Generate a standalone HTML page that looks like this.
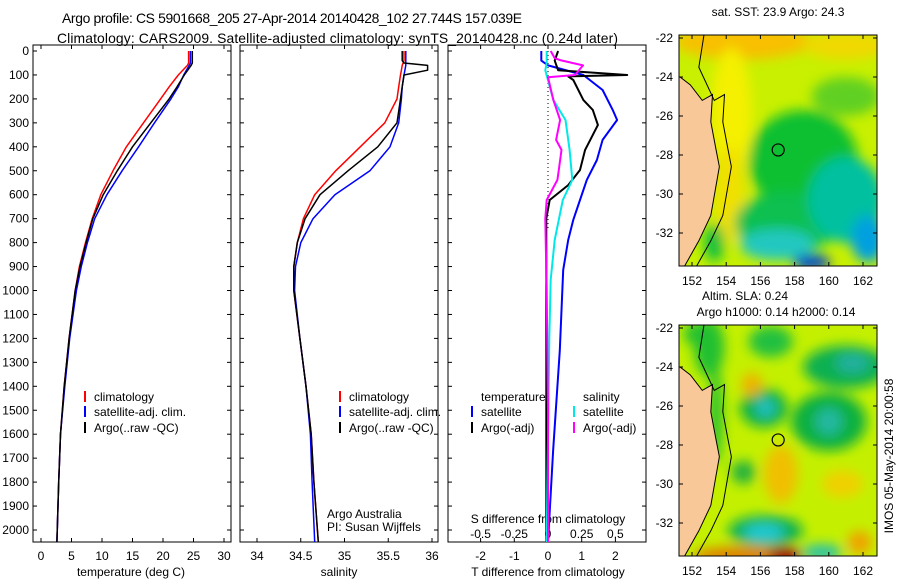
<!DOCTYPE html>
<html><head><meta charset="utf-8">
<style>
html,body{margin:0;padding:0;background:#fff;}
svg{display:block;font-family:"Liberation Sans",sans-serif;}
text{font-size:12px;fill:#000;}
.ttl{font-size:13.9px;}
</style></head>
<body>
<svg id="fig" width="900" height="580" viewBox="0 0 900 580">
<defs>
<filter id="blur1" x="-50%" y="-50%" width="200%" height="200%"><feGaussianBlur stdDeviation="6"/></filter>
<clipPath id="clipM1"><rect x="679" y="35" width="198" height="231"/></clipPath>
<clipPath id="clipM2"><rect x="679" y="325" width="198" height="231"/></clipPath>
</defs>
<text class="ttl" x="62" y="23" textLength="460">Argo profile: CS 5901668_205 27-Apr-2014 20140428_102 27.744S 157.039E</text>
<text class="ttl" x="57" y="43" textLength="561">Climatology: CARS2009. Satellite-adjusted climatology: synTS_20140428.nc (0.24d later)</text>
<g id="g"></g>
</svg>
<script>
// ---- temperature panel data ----
const tDepth = [0,50,60,100,150,200,300,400,500,600,700,800,900,1000,1200,1400,1600,1800,2050];
const tClim  = [24.2,24.2,24,22.5,21,19.6,16.8,14,11.8,9.8,8.4,7.3,6.3,5.6,4.6,3.8,3.2,2.9,2.6];
const tArgo  = [24.8,24.8,24.6,23.5,22.3,21,18,15,12.5,10.2,8.5,7.4,6.4,5.6,4.6,3.8,3.2,2.9,2.6];
const tSat   = [24.5,24.5,24.3,23.4,22.5,21.3,18.6,16,13.3,10.8,8.8,7.6,6.6,5.8,4.7,3.9,3.2,2.9,2.6];
const tTicks = [0,5,10,15,20,25,30];
// ---- salinity panel data ----
const sDepth = [0,40,50,60,80,100,150,200,300,400,500,600,700,800,900,1000,1200,1400,1600,1800,2050];
const sClim  = [35.68,35.68,35.67,35.66,35.65,35.64,35.62,35.6,35.46,35.18,34.9,34.66,34.53,34.46,34.42,34.42,34.49,34.56,34.62,34.65,34.7];
const sArgo  = [35.66,35.66,35.68,35.95,35.95,35.68,35.66,35.64,35.6,35.38,35.04,34.72,34.55,34.46,34.42,34.42,34.49,34.56,34.62,34.65,34.7];
const sSat   = [35.7,35.7,35.7,35.7,35.69,35.68,35.66,35.65,35.62,35.52,35.29,34.89,34.64,34.5,34.44,34.43,34.49,34.56,34.61,34.63,34.66];
const sTicks = [34,34.5,35,35.5,36];
// ---- difference panel data ----
const dTArgoDepth = [0,40,80,100,106,121,205,246,309,413,497,560,622,700,900,1200,1500,1800,2050];
const dTArgo      = [0.3,0.2,0.3,2.35,0.6,0.75,1.05,1.33,1.48,1.1,0.95,0.6,0.05,-0.05,-0.05,-0.05,-0.05,-0.05,-0.05];
const dTSatDepth  = [0,40,60,100,163,246,288,371,455,538,622,705,789,914,1250,1670,2050];
const dTSat       = [-0.2,-0.2,0,1.05,1.62,1.92,2.05,1.62,1.45,1.15,0.95,0.75,0.6,0.45,0.35,0.15,0];
const dSArgoDepth = [0,30,38,60,100,110,205,288,371,413,497,538,622,700,1000,1500,2050];
const dSArgo      = [0.02,0.05,0.09,0.26,0.2,0,0.04,0.09,0.06,0.1,0.08,0.07,-0.01,-0.02,-0.01,0,0];
const dSSatDepth  = [0,50,80,205,288,413,538,622,789,955,1200,2050];
const dSSat       = [-0.01,-0.01,-0.02,0.04,0.13,0.16,0.18,0.11,0.05,0.02,0.01,-0.01];
const dTTicks = [-2,-1,0,1,2];
const dSTicks = [-0.5,-0.25,0,0.25,0.5];
const depthTicks = [0,100,200,300,400,500,600,700,800,900,1000,1100,1200,1300,1400,1500,1600,1700,1800,1900,2000];

const NS='http://www.w3.org/2000/svg';
const G=document.getElementById('g');
function el(tag,attrs,parent){const e=document.createElementNS(NS,tag);for(const k in attrs)e.setAttribute(k,attrs[k]);(parent||G).appendChild(e);return e;}
function txt(x,y,s,anchor,parent){const t=el('text',{x:x,y:y,'text-anchor':anchor||'start'},parent);t.textContent=s;return t;}
const yD = d => 51 + d*0.2395;
const PT = 542;
const xT = v => 41 + v*6.1;
const xS = v => 257 + (v-34)*87.5;
const xDT = v => 548 + v*33.7;
const xDS = v => 548 + v*4*33.7;

function panel(x0,name,ticks,xf,tickLbl,labelY){
  const r=el('rect',{x:x0,y:45,width:198,height:PT-45,fill:'none',stroke:'#000','stroke-width':1});
  
  
  depthTicks.forEach(d=>{
    const y=yD(d);
    el('line',{x1:x0,x2:x0+4,y1:y,y2:y,stroke:'#000'});
    el('line',{x1:x0+198,x2:x0+194,y1:y,y2:y,stroke:'#000'});
  });
  ticks.forEach(v=>{
    const x=xf(v);
    el('line',{x1:x,x2:x,y1:PT,y2:PT-4,stroke:'#000'});
    el('line',{x1:x,x2:x,y1:45,y2:49,stroke:'#000'});
    if(tickLbl){const t=txt(x,labelY,String(v),'middle');
      
      }
  });
}
function line(xs,ds,xf,color,w,name){
  const pts=xs.map((v,i)=>xf(v).toFixed(1)+','+yD(ds[i]).toFixed(1)).join(' ');
  const p=el('polyline',{points:pts,fill:'none',stroke:color,'stroke-width':w,'stroke-linejoin':'round'});
  
  
}
// panel 1
panel(33,'temperature-panel',tTicks,xT,true,560);
depthTicks.forEach(d=>{const t=txt(29,yD(d)+4,String(d),'end');
  
  });
line(tClim,tDepth,xT,'#ff0000',1.5,'temperature-climatology-line');
line(tSat,tDepth,xT,'#0000ff',1.5,'temperature-satellite-line');
line(tArgo,tDepth,xT,'#000000',1.5,'temperature-argo-line');
let t=txt(131,576,'temperature (deg C)','middle');


// panel 2
panel(240,'salinity-panel',sTicks,xS,true,560);
line(sClim,sDepth,xS,'#ff0000',1.5,'salinity-climatology-line');
line(sSat,sDepth,xS,'#0000ff',1.5,'salinity-satellite-line');
line(sArgo,sDepth,xS,'#000000',1.5,'salinity-argo-line');
t=txt(339,576,'salinity','middle');


txt(327,518,'Argo Australia');
txt(327,531,'PI: Susan Wijffels');
// panel 3
panel(448,'difference-panel',dTTicks,xDT,true,560);
dSTicks.forEach(v=>{const tt=txt(xDS(v),538,String(v),'middle');
  
  });
txt(548,523,'S difference from climatology','middle');
t=txt(548,576,'T difference from climatology','middle');


el('line',{x1:xDT(0),x2:xDT(0),y1:yD(0),y2:yD(750),stroke:'#000','stroke-dasharray':'1,3'});
line(dTSat,dTSatDepth,xDT,'#0000ff',2,'t-diff-satellite-line');
line(dTArgo,dTArgoDepth,xDT,'#000000',2,'t-diff-argo-line');
line(dSSat,dSSatDepth,xDS,'#00e8e8',2,'s-diff-satellite-line');
line(dSArgo,dSArgoDepth,xDS,'#ff00ff',2,'s-diff-argo-line');

// legends
function legendEntry(x,y,color,label,name){
  el('line',{x1:x,x2:x,y1:y-10,y2:y+1,stroke:color,'stroke-width':2});
  const tt=txt(x+9,y,label);
  
  
}
legendEntry(85,401,'#ff0000','climatology','legend-climatology');
legendEntry(85,416,'#0000ff','satellite-adj. clim.','legend-satellite');
legendEntry(85,432,'#000000','Argo(..raw -QC)','legend-argo');
legendEntry(340,401,'#ff0000','climatology','legend-climatology-2');
legendEntry(340,416,'#0000ff','satellite-adj. clim.','legend-satellite-2');
legendEntry(340,432,'#000000','Argo(..raw -QC)','legend-argo-2');
txt(481,401,'temperature');
txt(583,401,'salinity');
legendEntry(472,416,'#0000ff','satellite','legend-t-satellite');
legendEntry(472,432,'#000000','Argo(-adj)','legend-t-argo');
legendEntry(574,416,'#00e8e8','satellite','legend-s-satellite');
legendEntry(574,432,'#ff00ff','Argo(-adj)','legend-s-argo');

// ---- maps ----
const lonTicks=[152,154,156,158,160,162];
const latTicks=[-22,-24,-26,-28,-30,-32];
const sstBlobs=[[155,-22.2,4,0.9,'#f8c000'],[161,-22.4,2.5,0.7,'#f0d800'],[154.3,-26,1.2,3.5,'#f4f000'],[154.2,-30,0.9,2.5,'#f0e000'],
 [158.5,-28.3,3.2,2.6,'#10c030'],[161,-25,2,1,'#60d020'],[157.5,-31.5,3,1.6,'#10c050'],[161,-30.3,2.2,2.2,'#00c0a0'],
 [157,-32.6,2.2,0.8,'#20c8c0'],[162.3,-32.3,1,1.2,'#00a0e0'],[159,-33.5,1.1,0.4,'#0040d0'],[153.3,-32.5,0.6,1,'#10c040']];
const slaBlobs=[[156.6,-22.7,1.3,0.8,'#20c040'],[161,-24,2.5,1.1,'#10b050'],[161.4,-23.8,1,0.5,'#20b0a0'],[156.2,-26.1,1.4,1,'#10b040'],
 [156.3,-26.1,0.6,0.5,'#20c0c0'],[160,-26.8,2.2,1.5,'#10b040'],[160,-26.8,0.8,0.7,'#20b8a0'],[155.5,-24.9,0.6,0.6,'#f0b000'],
 [157.2,-29.5,1,1.5,'#f0c000'],[155,-29.4,0.7,0.6,'#20b040'],[160.8,-30,1.2,0.7,'#f0d000'],[156.3,-32.4,2.2,0.8,'#10b050'],
 [156.2,-32.5,1.2,0.5,'#20c8d0'],[155,-33.7,3,0.5,'#e08000'],[157.4,-33.7,1,0.5,'#a00000'],[161.8,-33,0.7,0.6,'#f0a000'],
 [159.6,-33.5,1.2,0.4,'#20c0b0'],[153,-23,0.9,1.5,'#20c030'],[152.3,-22.3,0.8,0.6,'#20c030'],[153.4,-26.5,0.4,2.5,'#20c030']];
const coastLon=[151.3,151.9,152.6,153.2,153.1,153.4,153.6,153.3,153.1,152.4,151.5];
const coastLat=[-24,-24.4,-25.2,-24.9,-26.3,-27.7,-28.6,-30.1,-31.1,-32.4,-33.8];

function map(top,name,bg,blobs){
  const lonX=l=>692+(l-152)*17.1;
  const latY=la=>top+3+(-22-la)*19.5;
  const clip=top===35?'url(#clipM1)':'url(#clipM2)';
  const gm=el('g',{'clip-path':clip});
  
  
  el('rect',{x:679,y:top,width:198,height:231,fill:bg},gm);
  const gb=el('g',{filter:'url(#blur1)'},gm);
  blobs.forEach(b=>el('ellipse',{cx:lonX(b[0]),cy:latY(b[1]),rx:b[2]*17.1,ry:b[3]*19.5,fill:b[4]},gb));
  let pts=coastLon.map((l,i)=>lonX(l)+','+latY(coastLat[i]));
  el('polygon',{points:'660,'+latY(-24)+' '+pts.join(' ')+' 660,'+(top+240),fill:'#f8c898',stroke:'#000','stroke-width':1},gm);
  const shelf=coastLon.map((l,i)=>(lonX(l)+12)+','+latY(coastLat[i]));
  el('polyline',{points:lonX(152.7)+','+top+' '+lonX(152.4)+','+latY(-23.5)+' '+shelf.slice(2).join(' '),fill:'none',stroke:'#000','stroke-width':1},gm);
  const c=el('circle',{cx:lonX(157.04),cy:latY(-27.74),r:6,fill:'none',stroke:'#000','stroke-width':1.2},gm);
  
  
  el('rect',{x:679,y:top,width:198,height:231,fill:'none',stroke:'#000'});
  lonTicks.forEach(l=>{const x=lonX(l);
    el('line',{x1:x,x2:x,y1:top,y2:top+4,stroke:'#000'});
    el('line',{x1:x,x2:x,y1:top+231,y2:top+227,stroke:'#000'});
    const tt=txt(x,top+250,String(l),'middle');
    
    });
  latTicks.forEach(la=>{const y=latY(la);
    el('line',{x1:679,x2:683,y1:y,y2:y,stroke:'#000'});
    el('line',{x1:877,x2:873,y1:y,y2:y,stroke:'#000'});
    const tt=txt(673,y+4,String(la),'end');
    
    });
}
map(35,'sst-map','#c8f000',sstBlobs);
map(325,'sla-map','#c4f000',slaBlobs);
txt(778,16,'sat. SST: 23.9 Argo: 24.3','middle');
txt(745,300,'Altim. SLA: 0.24','middle');
txt(776,316,'Argo h1000: 0.14 h2000: 0.14','middle');
t=txt(0,0,'IMOS 05-May-2014 20:00:58','middle');
t.setAttribute('transform','translate(893,456) rotate(-90)');


</script>
</body></html>
